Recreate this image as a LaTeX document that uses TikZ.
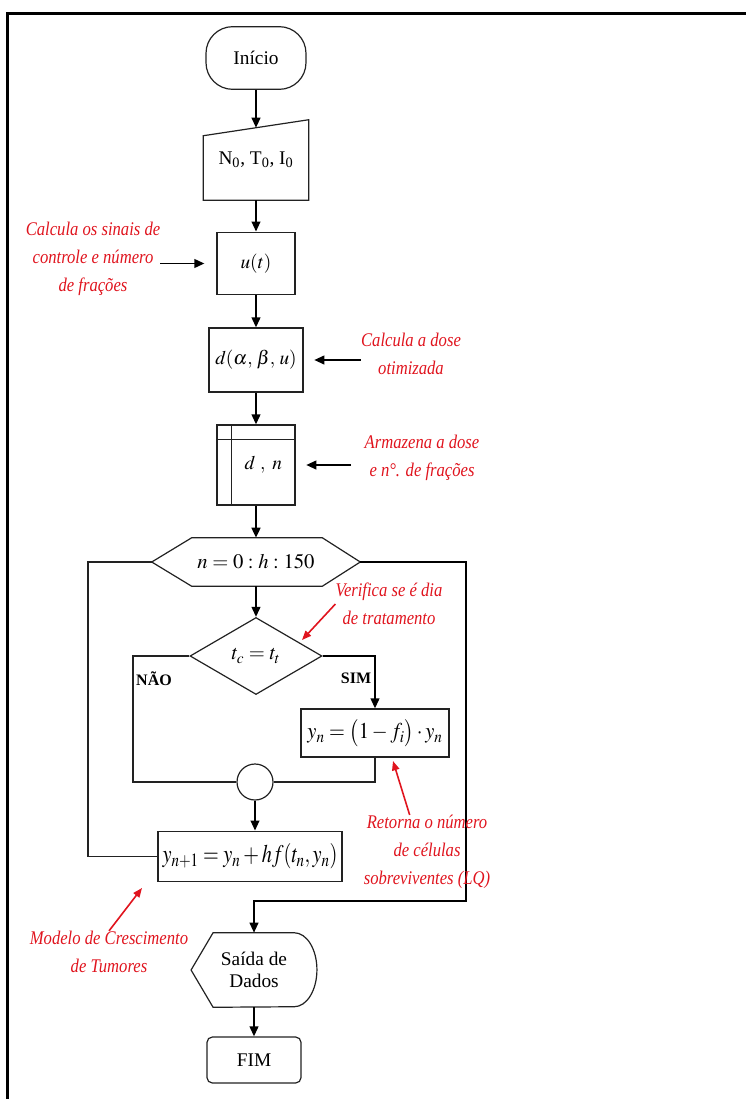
\documentclass[tikz,border=0pt]{standalone}
\usepackage{mathptmx}
\usepackage[no-math]{fontspec}
\setmainfont{Liberation Serif}
\newfontfamily\notafont[FakeStretch=0.86]{Liberation Serif}
\usepackage{graphicx}
\usepackage{xcolor}
\usepackage{tikz}
\definecolor{notaRed}{HTML}{E0141E}
\definecolor{fluxoLine}{HTML}{222222}
\usetikzlibrary{arrows.meta,shapes.geometric,calc}

\begin{document}
\begin{tikzpicture}[
  x=0.75pt, y=-0.75pt,
  font=\fontsize{14.5}{17}\selectfont,
  bloco/.style={draw=fluxoLine, line width=0.9pt, inner sep=0pt, align=center},
  seta/.style={line width=1.4pt, -{Triangle[length=7.5pt,width=6.5pt]}},
  ligacao/.style={line width=0.9pt, fluxoLine},
  nota/.style={text=notaRed, font=\notafont\fontsize{14.5}{21}\selectfont\itshape, align=center, inner sep=0pt},
  setanota/.style={notaRed, line width=1.2pt, -{Triangle[length=7pt,width=5.5pt]}},
  rotulo/.style={font=\fontsize{12}{14}\selectfont\bfseries, inner sep=0pt},
  eq/.style={font=\fontsize{15.5}{19}\selectfont}
]
\useasboundingbox (0,0) rectangle (746,1099);

% Outer frame (top and left edges)
\draw[line width=2.25pt] (7.5,1099) -- (7.5,13.5) -- (746,13.5);

% Main flow
\node[bloco, rounded corners=20pt, minimum width=75pt, minimum height=47pt] (inicio) at (256,58) {Início};
\node[minimum width=78.75pt, minimum height=60pt, inner sep=0pt] (entrada) at (256,160) {N\textsubscript{0}, T\textsubscript{0}, I\textsubscript{0}};
\draw[ligacao] (entrada.south west) -- (entrada.south east) -- (entrada.north east) -- ([yshift=-12pt]entrada.north west) -- cycle;
\node[bloco, minimum width=58.5pt, minimum height=47pt] (ut) at (256,263.5) {$u(t)$};
\node[bloco, minimum width=70.5pt, minimum height=48pt] (dose) at (256,360) {$d(\alpha,\,\beta,\,u)$};
\node[bloco, minimum width=58.5pt, minimum height=60pt] (armazena) at (256,465) {\hspace*{11pt}$d\ ,\ n$};
\draw[ligacao] ([xshift=11.25pt]armazena.north west) -- ([xshift=11.25pt]armazena.south west);
\draw[ligacao] ([yshift=-11.25pt]armazena.north west) -- ([yshift=-11.25pt]armazena.north east);

% Loop (hexagon)
\node[minimum width=156pt, minimum height=36pt, inner sep=0pt, eq] (laco) at (256,562) {$n = 0 : h : 150$};
\draw[ligacao] (laco.west) -- ([xshift=30pt]laco.north west) -- ([xshift=-28.5pt]laco.north east) -- (laco.east) -- ([xshift=-28.5pt]laco.south east) -- ([xshift=30pt]laco.south west) -- cycle;

% Decision and update
\node[bloco, diamond, minimum width=99pt, minimum height=57.75pt, eq] (teste) at (256,656) {$t_c = t_t$};
\node[bloco, minimum width=111pt, minimum height=36pt, eq] (sim) at (375,733) {\scalebox{0.9}[1]{\fontsize{17}{20}\selectfont$y_n = \bigl(1 - f_i\bigr)\cdot y_n$}};
\node[bloco, circle, minimum size=27pt] (juncao) at (255,782) {};
\node[bloco, minimum width=138pt, minimum height=38pt] (euler) at (250,856.5) {\scalebox{0.8}[1]{\fontsize{19}{22}\selectfont$y_{n+1} = y_n + hf(t_n, y_n)$}};
\node[rotulo] (nao) at (154,679) {NÃO};
\node[rotulo] (simRot) at (356,678) {SIM};

% Output and end
\node[minimum width=94pt, minimum height=55.5pt, inner sep=0pt, align=center] (saida) at (254,970) {Saída de\\Dados};
\draw[ligacao] (saida.west) -- ([xshift=16.5pt]saida.north west) -- ([xshift=-17pt]saida.north east) arc[start angle=90, end angle=-90, x radius=17pt, y radius=27.75pt] -- ([xshift=16.5pt]saida.south west) -- cycle;
\node[bloco, rounded corners=4pt, minimum width=70.5pt, minimum height=34.5pt] (fim) at (254,1060) {FIM};

% Connectors
\draw[seta] (inicio.south) -- ([yshift=-6pt]entrada.north);
\draw[seta] (entrada.south) -- (ut.north);
\draw[seta] (ut.south) -- (dose.north);
\draw[seta] (dose.south) -- (armazena.north);
\draw[seta, line width=1.8pt] (armazena.south) -- (laco.north);
\draw[seta] (laco.south) -- (teste.north);
\draw[seta] (teste.east) -| (sim.north);
\coordinate (naoCanto) at (133,782);
\draw[ligacao] (teste.west) -| (naoCanto) -- (juncao.west);
\draw[ligacao] (sim.south) |- (juncao.east);
\draw[seta] (juncao.south) -- (juncao.south |- euler.north);
\coordinate (voltaCanto) at (88,856.5);
\draw[ligacao] (euler.west) -- (voltaCanto) |- (laco.west);
\coordinate (saiCanto) at (466,901);
\draw[seta] (laco.east) -| (saiCanto) -| (saida.north);
\draw[seta] (saida.south) -- (fim.north);

% Annotations
\node[nota] (notaU) at (93,259) {Calcula os sinais de\\controle e número\\de frações};
\draw[seta] (notaU.east |- ut.west) -- ([xshift=-9pt]ut.west);
\node[nota] (notaDose) at (411,353.5) {Calcula a dose\\otimizada};
\draw[seta] (notaDose.west |- dose.east) -- ([xshift=8pt]dose.east);
\node[nota] (notaArm) at (422,458) {Armazena a dose\\e n°. de frações};
\draw[seta] ([xshift=-10pt]notaArm.west |- armazena.east) -- ([xshift=8pt]armazena.east);
\node[nota] (notaVer) at (389,604) {Verifica se é dia\\de tratamento};
\coordinate (alvoVer) at (302,640);
\draw[setanota] (notaVer.west) -- (alvoVer);
\node[nota] (notaRet) at (427,852) {Retorna o número\\de células\\sobreviventes (LQ)};
\coordinate (alvoRet) at (393,761);
\draw[setanota] ([xshift=-13pt]notaRet.north) -- (alvoRet);
\node[nota] (notaMod) at (109,952) {Modelo de Crescimento\\de Tumores};
\coordinate (alvoMod) at (142,888);
\draw[setanota] (notaMod.north) -- (alvoMod);

\end{tikzpicture}
\end{document}
